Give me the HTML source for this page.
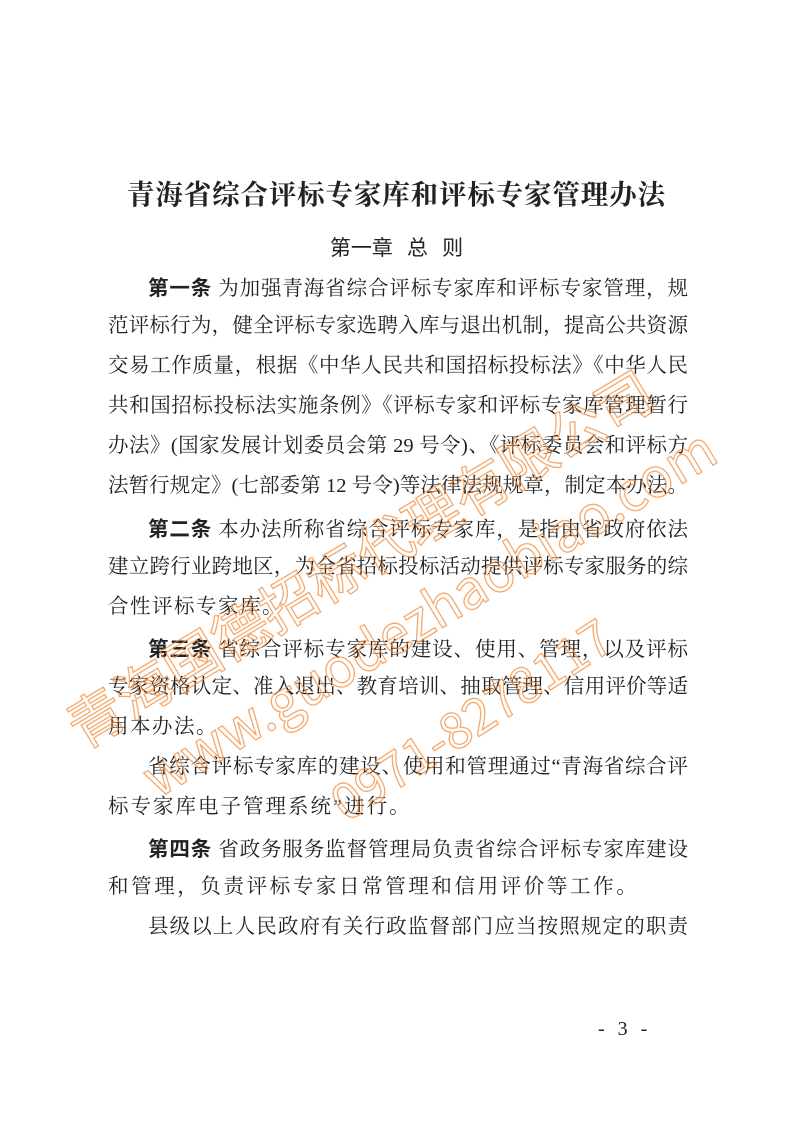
<!DOCTYPE html>
<html><head><meta charset="utf-8"><style>
html,body{margin:0;padding:0;background:#fff;}
body{width:793px;height:1121px;position:relative;overflow:hidden;font-family:"Liberation Serif","Noto Serif CJK SC",serif;color:#222;}
.t{position:absolute;left:127px;top:172px;width:538px;font-size:27.5px;font-weight:bold;text-align-last:justify;text-align:justify;white-space:nowrap;}
.c{position:absolute;top:232px;left:0;width:793px;text-align:center;font-size:21px;font-family:"Noto Sans CJK SC",sans-serif;}
.l{position:absolute;left:108px;width:580px;font-size:20.5px;text-align:justify;text-align-last:justify;white-space:nowrap;line-height:28px;}
.l.i{left:148px;width:540px;}
.l.e{text-align-last:left;letter-spacing:1.5px;}
b{font-family:"Noto Sans CJK SC",sans-serif;font-weight:bold;}
.w{position:absolute;color:rgba(255,255,255,0);-webkit-text-stroke:1.3px rgba(240,140,60,.75);font-family:"Noto Sans CJK SC",sans-serif;white-space:nowrap;transform-origin:0 0;}
</style></head><body>
<div class="t">青海省综合评标专家库和评标专家管理办法</div>
<div class="c">第一章&nbsp;&nbsp;&nbsp;总&nbsp;&nbsp;&nbsp;则</div>
<div class="l i" style="top:272px"><b>第一条</b> 为加强青海省综合评标专家库和评标专家管理，规</div>
<div class="l" style="top:312px">范评标行为，健全评标专家选聘入库与退出机制，提高公共资源</div>
<div class="l" style="top:352px">交易工作质量，根据《中华人民共和国招标投标法》《中华人民</div>
<div class="l" style="top:392px">共和国招标投标法实施条例》《评标专家和评标专家库管理暂行</div>
<div class="l" style="top:432px">办法》(国家发展计划委员会第 29 号令)、《评标委员会和评标方</div>
<div class="l" style="top:472px">法暂行规定》(七部委第 12 号令)等法律法规规章，制定本办法。</div>
<div class="l i" style="top:513px"><b>第二条</b> 本办法所称省综合评标专家库，是指由省政府依法</div>
<div class="l" style="top:553px">建立跨行业跨地区，为全省招标投标活动提供评标专家服务的综</div>
<div class="l e" style="top:593px">合性评标专家库。</div>
<div class="l i" style="top:633px"><b>第三条</b> 省综合评标专家库的建设、使用、管理，以及评标</div>
<div class="l" style="top:673px">专家资格认定、准入退出、教育培训、抽取管理、信用评价等适</div>
<div class="l e" style="top:713px">用本办法。</div>
<div class="l i" style="top:753px">省综合评标专家库的建设、使用和管理通过“青海省综合评</div>
<div class="l e" style="top:793px;letter-spacing:2px">标专家库电子管理系统”进行。</div>
<div class="l i" style="top:833px"><b>第四条</b> 省政务服务监督管理局负责省综合评标专家库建设</div>
<div class="l e" style="top:873px;letter-spacing:2.6px">和管理，负责评标专家日常管理和信用评价等工作。</div>
<div class="l i" style="top:913px">县级以上人民政府有关行政监督部门应当按照规定的职责</div>
<div style="position:absolute;left:598px;top:1018px;font-size:20px;letter-spacing:4px;">- 3 -</div>
<div class="w" style="left:50px;top:695px;font-size:56px;transform:rotate(-31deg);">青海国德招标代理有限公司</div>
<div class="w" style="left:125px;top:745px;font-size:54px;transform:rotate(-31deg);">www.guodezhaobiao.com</div>
<div class="w" style="left:315px;top:775px;font-size:50px;transform:rotate(-33deg);">0971-8278117</div>
</body></html>
